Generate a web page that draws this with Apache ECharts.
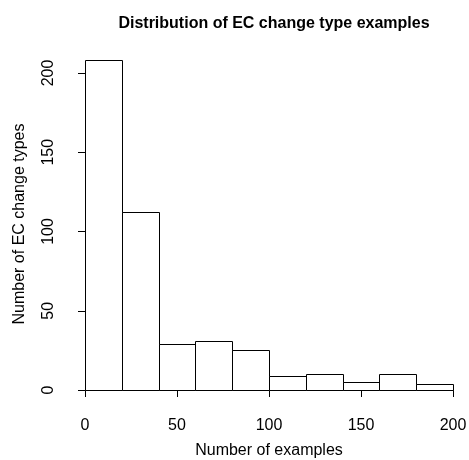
<!DOCTYPE html>
<html>
<head>
<meta charset="utf-8">
<script src="https://cdn.jsdelivr.net/npm/echarts@6/dist/echarts.min.js"></script>
<style>
  html, body { margin: 0; padding: 0; background: #fff; }
  #main { width: 469px; height: 460px; }
</style>
</head>
<body>
<div id="main"></div>
<script>
    // histogram bins (width 20) and counts
    var binStarts = [0, 20, 40, 60, 80, 100, 120, 140, 160, 180];
    var binWidth = 20;
    var counts = [208, 112, 29, 31, 25, 9, 10, 5, 10, 4];
    var xTicks = [0, 50, 100, 150, 200];
    var yTicks = [0, 50, 100, 150, 200];

    var FONT = '"Liberation Sans", Helvetica, Arial, sans-serif';
    var myChart = echarts.init(document.getElementById('main'));

    var seriesData = [];
    for (var i = 0; i < counts.length; i++) {
        seriesData.push([binStarts[i], binStarts[i] + binWidth, counts[i]]);
    }

    var option = {
        animation: false,
        backgroundColor: '#fff',
        title: {
            text: 'Distribution of EC change type examples',
            left: 269,
            textAlign: 'center',
            top: 11,
            textStyle: { fontFamily: FONT, fontSize: 16, fontWeight: 'bold', color: '#000' }
        },
        grid: { left: 85, right: 16, top: 73, bottom: 70, containLabel: false, outerBoundsMode: 'none' },
        xAxis: {
            type: 'value',
            min: xTicks[0],
            max: xTicks[xTicks.length - 1],
            interval: 50,
            offset: 13,
            name: 'Number of examples',
            nameLocation: 'middle',
            nameGap: 40,
            nameTextStyle: { fontFamily: FONT, fontSize: 16, color: '#000' },
            axisLine: { show: true, lineStyle: { color: '#000', width: 1 } },
            axisTick: { show: true, length: 7, lineStyle: { color: '#000' } },
            axisLabel: { fontFamily: FONT, fontSize: 16, color: '#000', margin: 15, showMinLabel: true, showMaxLabel: true },
            splitLine: { show: false }
        },
        yAxis: {
            type: 'value',
            min: yTicks[0],
            max: yTicks[yTicks.length - 1],
            interval: 50,
            offset: 15,
            axisLine: { show: true, lineStyle: { color: '#000', width: 1 } },
            axisTick: { show: true, length: 7, lineStyle: { color: '#000' } },
            axisLabel: { fontFamily: FONT, fontSize: 16, color: '#000', rotate: 90, margin: 13 },
            splitLine: { show: false }
        },
        graphic: [
            {
                type: 'text',
                x: 20,
                y: 224,
                rotation: Math.PI / 2,
                style: {
                    text: 'Number of EC change types',
                    fontFamily: FONT,
                    fontSize: 16,
                    fill: '#000',
                    align: 'center',
                    verticalAlign: 'middle'
                }
            }
        ],
        series: [
            {
                type: 'custom',
                clip: false,
                data: seriesData,
                renderItem: function (params, api) {
                    var p0 = api.coord([api.value(0), api.value(2)]);
                    var p1 = api.coord([api.value(1), 0]);
                    return {
                        type: 'rect',
                        shape: {
                            x: Math.round(p0[0]) + 0.5,
                            y: Math.round(p0[1]) + 0.5,
                            width: Math.round(p1[0]) - Math.round(p0[0]),
                            height: Math.round(p1[1]) - Math.round(p0[1])
                        },
                        style: { fill: '#fff', stroke: '#000', lineWidth: 1 }
                    };
                }
            }
        ]
    };

    myChart.setOption(option);
</script>
</body>
</html>
